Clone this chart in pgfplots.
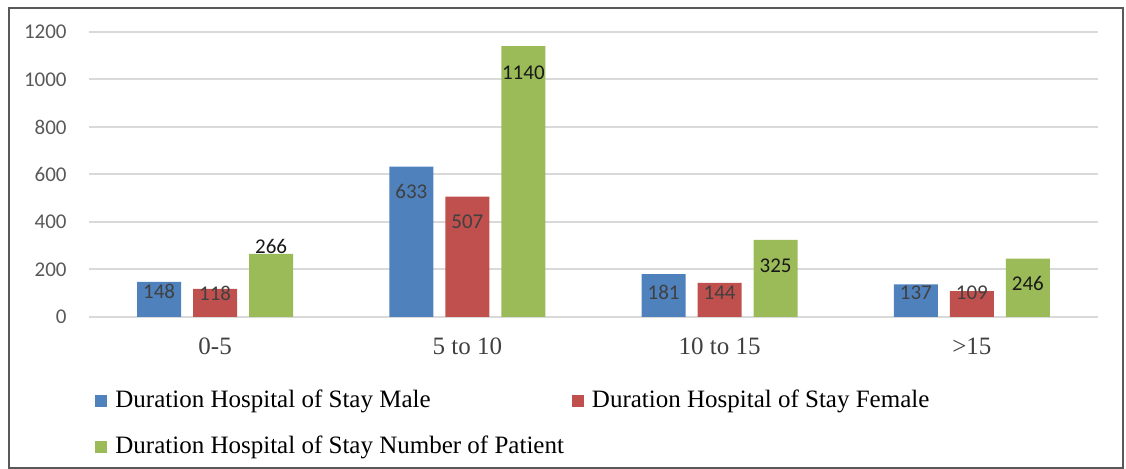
\documentclass[border=0pt]{standalone}
\usepackage{pgfplots}
\pgfplotsset{compat=1.18}
\usepackage{fontspec}
\setmainfont{Liberation Serif}
\newfontfamily\calibri{Carlito}

\definecolor{exblue}{HTML}{4F81BD}
\definecolor{exred}{HTML}{C0504D}
\definecolor{exgreen}{HTML}{9BBB59}
\definecolor{gridgray}{HTML}{D9D9D9}
\definecolor{ticktext}{HTML}{595959}
\definecolor{labeltext}{HTML}{404040}

% x = category, y = value, dy = label offset from bar top (pt)
\pgfplotstableread{
x y dy
0 148 -5
1 633 -12.5
2 181 -9
3 137 -4
}\male
\pgfplotstableread{
x y dy
0 118 -2
1 507 -12.5
2 144 -5
3 109 -1
}\female
\pgfplotstableread{
x y dy
0 266 3.5
1 1140 -13.5
2 325 -13
3 246 -12.5
}\patients

\begin{document}
\begin{tikzpicture}
\path[use as bounding box] (-44.5pt,-76pt) rectangle (518.5pt,158.5pt);
\draw[line width=1pt, draw=black!65] (-40pt,-75.5pt) rectangle (517pt,154.5pt);
\begin{axis}[
    at={(0,0)}, anchor=south west,
    scale only axis,
    width=504.5pt, height=142.5pt,
    ybar=6pt,
    bar width=22pt,
    xmin=-0.5, xmax=3.5,
    ymin=0, ymax=1200,
    ytick={0,200,...,1200},
    xtick={0,1,2,3},
    xticklabels={0-5, 5 to 10, 10 to 15, >15},
    /pgf/number format/1000 sep={},
    /pgf/number format/assume math mode=true,
    axis line style={draw=none},
    major tick length=0pt,
    tick style={draw=none},
    ymajorgrids,
    grid style={draw=gridgray, line width=1pt},
    yticklabel style={font=\calibri\fontsize{10.5}{12}\selectfont, text=ticktext, anchor=east, inner sep=0pt, xshift=-11pt},
    xticklabel style={font=\fontsize{12.5}{14}\selectfont, text=labeltext, anchor=base, inner sep=0pt, yshift=-19pt},
    nodes near coords,
    visualization depends on={\thisrow{dy} \as \dy},
    every node near coord/.append style={font=\calibri\fontsize{10.5}{12}\selectfont, text=labeltext, anchor=center, inner sep=0pt, yshift=\dy pt},
    legend columns=2,
    legend cell align=left,
    legend image code/.code={\fill[#1] (0pt,-3pt) rectangle (6pt,3pt);},
    legend style={draw=none, fill=none, font=\fontsize{12.5}{14}\selectfont,
        at={(axis description cs:0.006,-0.2386)}, anchor=north west, inner sep=0pt,
        column sep=2pt, row sep=7pt,
        nodes={text height=9pt, text depth=3pt, inner sep=2pt}},
]
\addplot[fill=exblue, draw=none] table[x=x, y=y] {\male};
\addplot[fill=exred, draw=none] table[x=x, y=y] {\female};
\addplot[fill=exgreen, draw=none, every node near coord/.append style={text=black!90}] table[x=x, y=y] {\patients};
\legend{Duration Hospital of Stay Male, Duration Hospital of Stay Female, Duration Hospital of Stay Number of Patient}
\end{axis}
\end{tikzpicture}
\end{document}
